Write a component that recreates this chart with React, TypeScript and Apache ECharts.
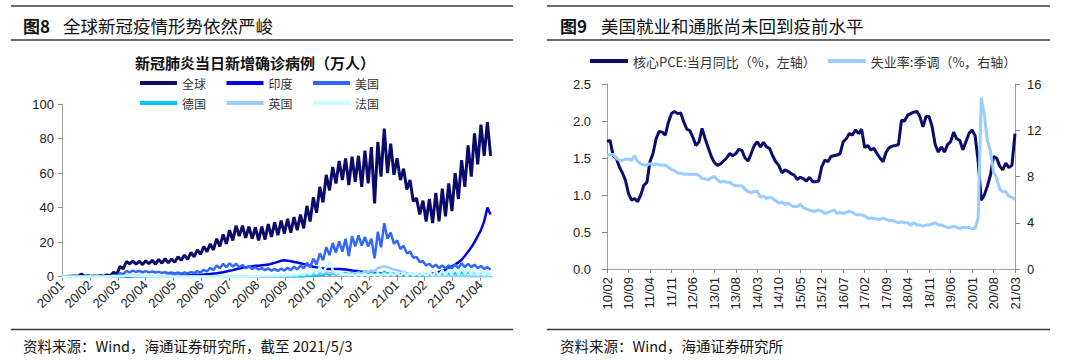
import React, { useEffect, useRef } from 'react';
import * as echarts from 'echarts';

// ---------- Left chart (图8) ----------
const LEFT_X_LABELS = ['20/01', '20/02', '20/03', '20/04', '20/05', '20/06', '20/07', '20/08', '20/09', '20/10', '20/11', '20/12', '21/01', '21/02', '21/03', '21/04'];
const LEFT_TICK_STEP = 30.3; // days between ticks (day 0 = 2020-01-22)
const LAST_DAY = 467; // 2021-05-03
const DAY_STEP = 3.5; // sampling of the series below (half a week)

const COVID_NAMES = ['全球', '印度', '美国', '德国', '英国', '法国'];
const COVID_COLORS = ['#0b0b6b', '#0000ee', '#3366ff', '#00c8ff', '#99ccff', '#c8ffff'];

const GLOBAL_CASES = [
  0.1, 0.05, 0.3, 0.2, 0.4, 0.3, 1.5, 0.3, 0.5, 0.3,
  0.4, 0.2, 0.5, 0.3, 1.0, 0.5, 2.5, 1.5, 6.0, 4.5,
  8.8, 7.5, 9.0, 7.3, 9.0, 7.0, 9.2, 7.5, 9.5, 7.2,
  10.0, 7.8, 10.5, 8.0, 10.2, 8.5, 11.5, 9.5, 12.5, 10.0,
  14.0, 11.5, 15.5, 13.0, 17.5, 14.5, 19.0, 15.5, 22.0, 17.5,
  24.5, 19.0, 27.0, 21.0, 29.5, 23.5, 29.5, 22.5, 29.0, 22.0,
  28.5, 21.0, 29.0, 21.5, 30.5, 23.0, 31.5, 24.0, 32.5, 25.0,
  33.5, 25.5, 34.5, 27.0, 36.0, 28.0, 41.0, 32.0, 46.0, 37.0,
  52.0, 43.0, 59.0, 50.0, 63.5, 54.0, 67.0, 56.0, 68.5, 53.0,
  69.5, 55.0, 70.0, 52.0, 73.0, 54.0, 75.0, 42.5, 78.0, 58.0,
  85.8, 60.0, 77.0, 59.0, 68.5, 56.0, 62.5, 50.5, 56.0, 43.5,
  45.5, 36.0, 44.0, 32.0, 45.0, 31.0, 48.5, 32.0, 51.0, 35.0,
  54.0, 38.0, 60.0, 45.0, 67.5, 52.0, 76.0, 58.0, 83.0, 65.0,
  88.0, 70.0, 89.5, 70.0,
];

const INDIA_CASES = [
  0, 0, 0, 0, 0, 0, 0, 0, 0, 0,
  0, 0, 0, 0, 0, 0, 0, 0, 0.01, 0.01,
  0.02, 0.03, 0.05, 0.07, 0.1, 0.12, 0.13, 0.15, 0.17, 0.2,
  0.25, 0.3, 0.35, 0.42, 0.5, 0.55, 0.6, 0.68, 0.75, 0.82,
  0.9, 1.0, 1.1, 1.2, 1.3, 1.45, 1.6, 1.8, 2.0, 2.3,
  2.6, 3.0, 3.4, 3.8, 4.3, 4.8, 5.2, 5.5, 5.8, 6.0,
  6.3, 6.4, 6.6, 6.8, 7.0, 7.5, 8.0, 8.6, 9.2, 9.5,
  9.3, 9.0, 8.5, 8.2, 7.8, 7.3, 6.8, 6.3, 5.8, 5.4,
  5.0, 4.8, 4.6, 4.5, 4.5, 4.5, 4.4, 4.3, 4.2, 3.9,
  3.6, 3.4, 3.1, 2.9, 2.6, 2.4, 2.2, 2.1, 2.0, 1.9,
  1.8, 1.7, 1.6, 1.5, 1.4, 1.35, 1.3, 1.25, 1.2, 1.2,
  1.2, 1.25, 1.3, 1.45, 1.6, 1.9, 2.3, 2.8, 3.3, 4.0,
  5.0, 6.0, 7.0, 8.3, 9.8, 12.0, 14.5, 17.0, 20.0, 23.5,
  27.0, 32.0, 40.0, 36.0,
];

const US_CASES = [
  0, 0, 0, 0, 0, 0, 0, 0, 0, 0,
  0, 0, 0, 0, 0, 0, 1.0, 0.5, 2.0, 1.5,
  3.2, 2.5, 3.5, 2.8, 3.3, 2.6, 3.2, 2.5, 3.0, 2.4,
  2.8, 2.2, 2.6, 2.0, 2.4, 1.8, 2.4, 1.8, 2.5, 1.9,
  2.7, 2.0, 3.2, 2.4, 4.0, 3.0, 5.2, 3.8, 6.5, 4.8,
  7.5, 5.5, 7.8, 5.8, 7.5, 5.5, 6.8, 5.0, 6.0, 4.5,
  5.5, 4.2, 5.0, 3.8, 4.8, 3.5, 4.5, 3.3, 4.8, 3.5,
  5.2, 3.8, 5.8, 4.2, 6.5, 4.8, 8.0, 5.5, 10.5, 7.0,
  13.5, 9.5, 17.0, 12.5, 19.5, 14.0, 20.5, 14.5, 22.0, 12.0,
  23.5, 17.5, 24.0, 18.0, 23.0, 17.5, 22.0, 10.6, 26.0, 17.0,
  31.0, 22.0, 25.5, 19.0, 21.0, 16.0, 18.0, 13.5, 14.5, 11.0,
  11.5, 8.5, 9.0, 6.5, 7.5, 5.5, 7.0, 5.0, 6.5, 4.8,
  6.5, 4.8, 7.0, 5.0, 7.8, 5.5, 7.5, 5.5, 7.0, 5.0,
  6.2, 4.5, 5.5, 4.0,
];

const GERMANY_CASES = [
  0, 0, 0, 0, 0, 0, 0, 0, 0, 0,
  0, 0, 0.02, 0.01, 0.15, 0.1, 0.35, 0.3, 0.6, 0.45,
  0.65, 0.4, 0.55, 0.3, 0.4, 0.2, 0.3, 0.15, 0.2, 0.1,
  0.12, 0.06, 0.1, 0.05, 0.08, 0.04, 0.06, 0.03, 0.08, 0.03,
  0.06, 0.03, 0.1, 0.04, 0.1, 0.05, 0.06, 0.03, 0.06, 0.03,
  0.06, 0.04, 0.08, 0.04, 0.1, 0.05, 0.12, 0.06, 0.15, 0.07,
  0.15, 0.07, 0.15, 0.08, 0.16, 0.08, 0.18, 0.09, 0.2, 0.1,
  0.22, 0.12, 0.28, 0.15, 0.35, 0.2, 0.5, 0.3, 0.8, 0.5,
  1.2, 0.8, 1.9, 1.1, 2.2, 1.2, 2.3, 1.1, 2.2, 1.2,
  2.3, 1.3, 2.8, 1.5, 3.2, 1.8, 3.3, 1.2, 2.3, 1.0,
  3.0, 1.2, 2.2, 1.2, 1.8, 0.8, 1.4, 0.6, 1.1, 0.5,
  0.9, 0.4, 0.9, 0.4, 1.0, 0.5, 1.2, 0.6, 1.5, 0.8,
  2.0, 0.9, 2.2, 1.0, 2.5, 1.2, 2.8, 1.4, 2.7, 1.5,
  2.6, 1.3, 2.4, 1.0,
];

const UK_CASES = [
  0, 0, 0, 0, 0, 0, 0, 0, 0, 0,
  0, 0, 0, 0, 0.02, 0.01, 0.1, 0.05, 0.3, 0.25,
  0.5, 0.45, 0.5, 0.45, 0.5, 0.4, 0.45, 0.35, 0.4, 0.3,
  0.35, 0.25, 0.3, 0.2, 0.2, 0.15, 0.15, 0.1, 0.12, 0.08,
  0.1, 0.07, 0.1, 0.07, 0.08, 0.06, 0.08, 0.06, 0.07, 0.05,
  0.07, 0.05, 0.08, 0.06, 0.08, 0.06, 0.1, 0.07, 0.1, 0.08,
  0.1, 0.08, 0.1, 0.08, 0.12, 0.1, 0.2, 0.15, 0.35, 0.3,
  0.5, 0.4, 0.7, 0.6, 1.2, 1.0, 1.5, 1.3, 1.8, 1.6,
  2.2, 2.0, 2.5, 2.2, 2.5, 2.0, 2.0, 1.6, 1.6, 1.4,
  1.8, 1.6, 2.2, 2.0, 3.0, 2.8, 3.6, 3.2, 5.0, 5.5,
  6.0, 5.5, 4.8, 4.0, 3.8, 3.2, 2.8, 2.2, 2.0, 1.6,
  1.4, 1.2, 1.1, 0.9, 0.8, 0.65, 0.6, 0.55, 0.6, 0.5,
  0.55, 0.45, 0.45, 0.35, 0.35, 0.3, 0.3, 0.25, 0.25, 0.2,
  0.25, 0.2, 0.25, 0.2,
];

const FRANCE_CASES = [
  0, 0, 0, 0, 0, 0, 0, 0, 0, 0,
  0, 0, 0.02, 0.01, 0.12, 0.1, 0.25, 0.2, 0.4, 0.3,
  0.5, 0.4, 0.45, 0.3, 0.35, 0.2, 0.2, 0.1, 0.1, 0.06,
  0.08, 0.05, 0.08, 0.05, 0.06, 0.04, 0.06, 0.04, 0.05, 0.03,
  0.05, 0.03, 0.05, 0.03, 0.06, 0.03, 0.06, 0.04, 0.07, 0.04,
  0.08, 0.05, 0.1, 0.06, 0.12, 0.06, 0.15, 0.08, 0.2, 0.1,
  0.3, 0.15, 0.5, 0.3, 0.8, 0.4, 1.0, 0.5, 1.2, 0.6,
  1.3, 0.7, 1.5, 0.8, 2.0, 1.0, 2.8, 1.4, 4.2, 2.0,
  5.5, 2.5, 5.5, 8.8, 4.0, 2.0, 2.8, 1.0, 1.4, 0.8,
  1.3, 0.5, 1.5, 0.5, 1.7, 0.6, 1.5, 0.5, 2.0, 0.4,
  2.0, 0.5, 2.2, 0.6, 2.3, 0.6, 2.5, 0.5, 2.4, 0.5,
  2.2, 0.5, 2.5, 0.6, 2.7, 0.6, 3.2, 0.8, 3.8, 0.9,
  4.3, 1.0, 5.0, 1.2, 5.5, 1.5, 4.5, 1.2, 4.0, 1.0,
  3.5, 0.8, 3.0, 0.6,
];

const COVID_SERIES = [GLOBAL_CASES, INDIA_CASES, US_CASES, GERMANY_CASES, UK_CASES, FRANCE_CASES];

// ---------- Right chart (图9) ----------
const RIGHT_START_YEAR = 2010;
const RIGHT_START_MONTH = 2; // 2010-02 .. 2021-03, monthly
const PCE_NAME = '核心PCE:当月同比（%，左轴）';
const UNEMP_NAME = '失业率:季调（%，右轴）';

const CORE_PCE_YOY = [
  1.72, 1.74, 1.53, 1.50, 1.38, 1.30, 1.20, 1.02, 0.93, 0.95,
  0.91, 1.00, 1.13, 1.17, 1.45, 1.56, 1.76, 1.86, 1.85, 1.81,
  1.98, 2.10, 2.13, 2.10, 2.11, 1.99, 1.89, 1.87, 1.78, 1.67,
  1.72, 1.90, 1.76, 1.64, 1.52, 1.44, 1.40, 1.42, 1.46, 1.50,
  1.56, 1.53, 1.56, 1.62, 1.60, 1.50, 1.46, 1.56, 1.67, 1.72,
  1.65, 1.71, 1.65, 1.63, 1.53, 1.45, 1.40, 1.30, 1.34, 1.32,
  1.29, 1.27, 1.21, 1.24, 1.22, 1.19, 1.24, 1.18, 1.18, 1.19,
  1.38, 1.47, 1.45, 1.52, 1.53, 1.54, 1.56, 1.72, 1.76, 1.83,
  1.81, 1.88, 1.83, 1.89, 1.64, 1.67, 1.61, 1.63, 1.56, 1.50,
  1.45, 1.58, 1.64, 1.66, 1.67, 1.68, 2.01, 2.00, 2.08, 2.10,
  2.12, 2.13, 2.06, 1.92, 2.06, 2.06, 1.92, 1.68, 1.58, 1.65,
  1.58, 1.68, 1.72, 1.85, 1.76, 1.74, 1.61, 1.72, 1.83, 1.88,
  1.80, 1.45, 0.93, 1.00, 1.12, 1.27, 1.52, 1.50, 1.39, 1.34,
  1.43, 1.37, 1.40, 1.83,
];

const UNEMPLOYMENT = [
  9.8, 9.9, 9.9, 9.6, 9.4, 9.4, 9.5, 9.5, 9.4, 9.8, 9.3,
  9.1, 9.0, 9.0, 9.1, 9.0, 9.1, 9.0, 9.0, 9.0, 8.8, 8.6, 8.5,
  8.3, 8.3, 8.2, 8.2, 8.2, 8.2, 8.2, 8.1, 7.8, 7.8, 7.7, 7.9,
  8.0, 7.7, 7.5, 7.6, 7.5, 7.5, 7.3, 7.2, 7.2, 7.2, 6.9, 6.7,
  6.6, 6.7, 6.7, 6.2, 6.3, 6.1, 6.2, 6.1, 5.9, 5.7, 5.8, 5.6,
  5.7, 5.5, 5.4, 5.4, 5.6, 5.3, 5.2, 5.1, 5.0, 5.0, 5.1, 5.0,
  4.8, 4.9, 5.0, 5.1, 4.8, 4.9, 4.8, 4.9, 5.0, 4.9, 4.7, 4.7,
  4.7, 4.6, 4.4, 4.4, 4.4, 4.3, 4.3, 4.4, 4.3, 4.2, 4.2, 4.1,
  4.0, 4.1, 4.0, 4.0, 3.8, 4.0, 3.8, 3.8, 3.7, 3.8, 3.8, 3.9,
  4.0, 3.8, 3.8, 3.7, 3.6, 3.6, 3.7, 3.6, 3.5, 3.6, 3.6, 3.6,
  3.5, 3.5, 4.4, 14.8, 13.3, 11.1, 10.2, 8.4, 7.9, 6.9, 6.7, 6.7,
  6.3, 6.2, 6.0,
];

const CJK = "'Noto Sans CJK SC', 'Noto Sans', sans-serif";
const LATIN = "'Liberation Sans', Arial, sans-serif";
const AXIS_COLOR = '#a0a0a0';
const LABEL_COLOR = '#222';

function buildMonths(): string[] {
  const out: string[] = [];
  let y = RIGHT_START_YEAR;
  let m = RIGHT_START_MONTH;
  for (let i = 0; i < CORE_PCE_YOY.length; i++) {
    out.push(String(y % 100).padStart(2, '0') + '/' + String(m).padStart(2, '0'));
    m++;
    if (m > 12) { m = 1; y++; }
  }
  return out;
}

export default function App() {
  const ref = useRef<HTMLDivElement>(null);

  useEffect(() => {
    if (!ref.current) return;
    const chart = echarts.init(ref.current, null, { renderer: 'svg' });
    const leftTicks = LEFT_X_LABELS.map((_, k) => +(k * LEFT_TICK_STEP).toFixed(2));
    const months = buildMonths();

    const axisLine = { show: true, onZero: false, lineStyle: { color: AXIS_COLOR, width: 1 } };
    const axisTickStyle = { lineStyle: { color: '#888', width: 1 } };

    const covidSeries = COVID_SERIES.map((vals, i) => ({
      name: COVID_NAMES[i],
      type: 'line',
      xAxisIndex: 0,
      yAxisIndex: 0,
      showSymbol: false,
      symbol: 'none',
      lineStyle: { color: COVID_COLORS[i], width: i === 0 ? 3 : 2.5 },
      itemStyle: { color: COVID_COLORS[i] },
      data: vals.map((v, j) => [j * DAY_STEP, v]),
      z: 2 + i,
    }));

    const legendText = { fontFamily: CJK, fontSize: 12, color: '#333' };

    const hline = (x1: number, x2: number, y: number) => ({
      type: 'line',
      shape: { x1, y1: y, x2, y2: y },
      style: { stroke: '#3a3a3a', lineWidth: 1.3 },
      silent: true,
    });
    const text = (x: number, y: number, t: string, size: number, weight: string, family = CJK, align = 'left') => ({
      type: 'text',
      x,
      y,
      silent: true,
      style: {
        text: t,
        fontSize: size,
        fontWeight: weight,
        fontFamily: family,
        fill: '#111',
        textAlign: align,
        textVerticalAlign: 'middle',
      },
    });

    chart.setOption({
      animation: false,
      backgroundColor: '#ffffff',
      grid: [
        { left: 62, top: 104, width: 430, height: 172.7, containLabel: false },
        { left: 607, top: 84, width: 408, height: 185, containLabel: false },
      ],
      legend: [
        {
          data: COVID_NAMES.slice(0, 3),
          left: 140, top: 77, padding: 0, itemGap: 20.5,
          itemWidth: 37, itemHeight: 4, icon: 'rect', textStyle: legendText,
        },
        {
          data: COVID_NAMES.slice(3),
          left: 140, top: 97, padding: 0, itemGap: 20.5,
          itemWidth: 37, itemHeight: 4, icon: 'rect', textStyle: legendText,
        },
        {
          data: [PCE_NAME, UNEMP_NAME],
          left: 590, top: 54.5, padding: 0, itemGap: 12,
          itemWidth: 38, itemHeight: 4, icon: 'rect',
          textStyle: { fontFamily: CJK, fontSize: 13, color: '#333' },
        },
      ],
      xAxis: [
        {
          type: 'value', gridIndex: 0, min: 0, max: LAST_DAY,
          axisLine,
          axisTick: { show: true, length: 4, customValues: leftTicks, ...axisTickStyle },
          axisLabel: {
            customValues: leftTicks,
            rotate: 45, margin: 6, fontSize: 13, fontFamily: LATIN, color: LABEL_COLOR,
            formatter: (v: number) => LEFT_X_LABELS[Math.round(v / LEFT_TICK_STEP)] ?? '',
          },
          splitLine: { show: false },
        },
        {
          type: 'category', gridIndex: 1, data: months, boundaryGap: false,
          axisLine,
          axisTick: { show: true, length: 4, interval: 6, ...axisTickStyle },
          axisLabel: { interval: 6, rotate: 90, margin: 8, fontSize: 13, fontFamily: LATIN, color: LABEL_COLOR },
          splitLine: { show: false },
        },
      ],
      yAxis: [
        {
          type: 'value', gridIndex: 0, min: 0, max: 100, interval: 20,
          axisLine,
          axisTick: { show: true, length: 4, ...axisTickStyle },
          axisLabel: { margin: 8, fontSize: 13, fontFamily: LATIN, color: LABEL_COLOR },
          splitLine: { show: false },
        },
        {
          type: 'value', gridIndex: 1, min: 0, max: 2.5, interval: 0.5, position: 'left',
          axisLine,
          axisTick: { show: true, length: 5, ...axisTickStyle },
          axisLabel: { margin: 16, fontSize: 13, fontFamily: LATIN, color: LABEL_COLOR, formatter: (v: number) => v.toFixed(1) },
          splitLine: { show: false },
        },
        {
          type: 'value', gridIndex: 1, min: 0, max: 16, interval: 4, position: 'right',
          axisLine,
          axisTick: { show: true, length: 5, ...axisTickStyle },
          axisLabel: { margin: 12, fontSize: 13, fontFamily: LATIN, color: LABEL_COLOR },
          splitLine: { show: false },
        },
      ],
      series: [
        ...covidSeries,
        {
          name: PCE_NAME, type: 'line', xAxisIndex: 1, yAxisIndex: 1,
          showSymbol: false, symbol: 'none',
          lineStyle: { color: '#0b0b6b', width: 3 }, itemStyle: { color: '#0b0b6b' },
          data: CORE_PCE_YOY, z: 3,
        },
        {
          name: UNEMP_NAME, type: 'line', xAxisIndex: 1, yAxisIndex: 2,
          showSymbol: false, symbol: 'none',
          lineStyle: { color: '#99ccff', width: 3 }, itemStyle: { color: '#99ccff' },
          data: UNEMPLOYMENT, z: 4,
        },
      ],
      graphic: [
        hline(11, 513, 6),
        hline(11, 513, 40),
        hline(11, 513, 329.5),
        hline(547, 1050, 6),
        hline(547, 1050, 40),
        hline(547, 1050, 329.5),
        text(23, 25, '图8', 17, 'bold'),
        text(63, 25, '全球新冠疫情形势依然严峻', 17.5, 'normal'),
        text(560, 25, '图9', 17, 'bold'),
        text(601, 25, '美国就业和通胀尚未回到疫前水平', 17.5, 'normal'),
        text(255, 62, '新冠肺炎当日新增确诊病例（万人）', 15, 'bold', CJK, 'center'),
        text(23, 345, '资料来源：Wind，海通证券研究所，截至 2021/5/3', 14.5, 'normal'),
        text(560, 345, '资料来源：Wind，海通证券研究所', 14.5, 'normal'),
      ],
    });

    return () => chart.dispose();
  }, []);

  return (
    <div
      ref={ref}
      style={{ position: 'fixed', left: 0, top: 0, width: 1080, height: 360, background: '#fff' }}
    />
  );
}
